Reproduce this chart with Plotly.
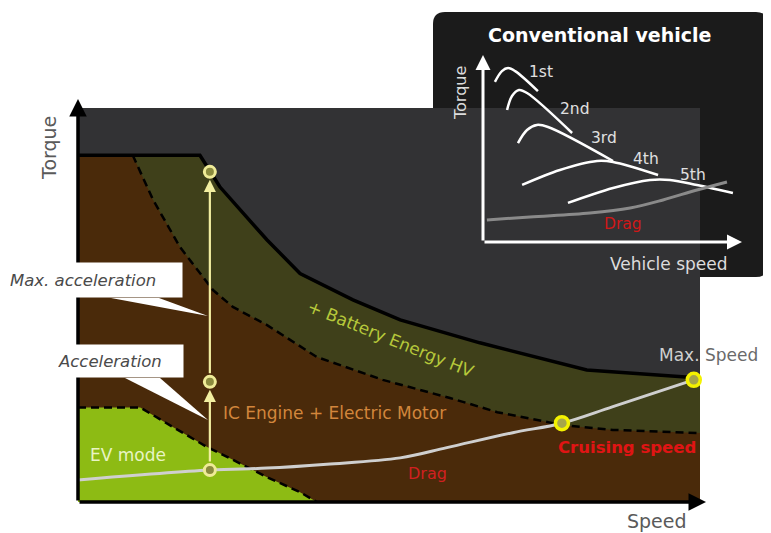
import plotly.graph_objects as go

# ---------------- DATA (main chart, speed / torque in arbitrary units 0-100) ----------------
envelope_speed = [0, 19.6, 22.8, 30.4, 35.7, 44.2, 51.8, 64.6, 81.8, 96.8, 100]
envelope_torque = [88, 88, 80, 66.5, 58, 51.3, 46.2, 40.4, 33.5, 31.7, 31.5]

ice_speed = [8.8, 12.1, 16.4, 21.7, 24.9, 30.4, 38.4, 49, 59.8, 67.4, 78, 86, 100]
ice_torque = [88, 76.6, 64.7, 53.8, 49.5, 44.9, 36.8, 31, 26.4, 22.8, 19.5, 18.3, 17.5]

ev_speed = [0, 10, 15.3, 20.7, 24.9, 30.4, 35.7, 38.4]
ev_torque = [24, 24, 19, 14, 10.7, 6.3, 2.5, 0]

drag_speed = [0, 21.2, 30.4, 40, 51.8, 59.3, 69.9, 77.8, 86, 99]
drag_torque = [5.6, 8.1, 8.6, 9.6, 11.2, 13.8, 17.6, 20, 24.2, 31]

accel_speed = 21.2
accel_torque = [8.1, 30.5, 83.8]      # start, acceleration, max. acceleration
cruise_point = [77.8, 20.0]
maxspeed_point = [99.0, 31.0]

# ---------------- DATA (inset: conventional vehicle) ----------------
gear_names = ["1st", "2nd", "3rd", "4th", "5th"]
gear_speed = [
    [4.6, 7.3, 9.7, 12.4, 21.2],
    [9.3, 11.2, 13.9, 17.0, 34.4],
    [13.5, 17.0, 20.8, 25.1, 50.2],
    [15.1, 29.7, 44.0, 50.2, 67.6],
    [32.8, 50.2, 64.5, 72.2, 82.6, 96.5],
]
gear_torque = [
    [85.6, 91.4, 93.0, 91.4, 80.7],
    [70.6, 78.1, 81.3, 79.7, 58.3],
    [52.9, 59.9, 62.6, 61.5, 43.3],
    [30.5, 38.5, 43.3, 42.8, 35.8],
    [20.9, 28.9, 33.2, 33.2, 30.5, 26.2],
]
inset_drag_speed = [1.5, 18.1, 41.3, 56.8, 69.5, 82.6, 94.2]
inset_drag_torque = [11.8, 13.4, 15.5, 18.2, 22.5, 27.8, 32.1]

# ---------------- LAYOUT CALIBRATION (page pixels) ----------------
OFF = 8                      # page body margin
W, H = 771 - OFF, 533 - OFF  # figure size
PX0, PX1, PY0, PY1 = 78, 700, 502, 108      # main plot box (speed 0..100, torque 0..100)
kx = (PX1 - PX0) / 100.0
ky = (PY0 - PY1) / 100.0
def sx(px): return (px - PX0) / kx
def ty(py): return (PY0 - py) / ky

BOX_L, BOX_T, BOX_R, BOX_B = 433, 12, 768, 277   # inset panel
IX0, IY0, IX1, IY1 = 483, 242, 742, 55            # inset axes origin and arrow tips
ku = (IX1 - IX0) / 100.0
kv = (IY0 - IY1) / 100.0
def iu(px): return (px - IX0) / ku
def iv(py): return (IY0 - py) / kv

FONT = "DejaVu Sans"
DARK = "#323234"
OLIVE = "#3f401a"
BROWN = "#4a2a0a"
GREEN = "#8dbb14"
DASH = "8px,5px"

fig = go.Figure()

fig.add_trace(go.Scatter(x=envelope_speed, y=envelope_torque, fill="tozeroy", mode="none",
                         fillcolor=OLIVE, hoverinfo="skip"))
fig.add_trace(go.Scatter(x=[0] + ice_speed, y=[ice_torque[0]] + ice_torque, fill="tozeroy",
                         mode="none", fillcolor=BROWN, hoverinfo="skip"))
fig.add_trace(go.Scatter(x=ev_speed, y=ev_torque, fill="tozeroy", mode="none",
                         fillcolor=GREEN, hoverinfo="skip"))
fig.add_trace(go.Scatter(x=envelope_speed, y=envelope_torque, mode="lines",
                         line=dict(color="black", width=3.5), hoverinfo="skip"))
fig.add_trace(go.Scatter(x=ice_speed, y=ice_torque, mode="lines",
                         line=dict(color="black", width=2.5, dash=DASH), hoverinfo="skip"))
fig.add_trace(go.Scatter(x=ev_speed, y=ev_torque, mode="lines",
                         line=dict(color="black", width=2.5, dash=DASH), hoverinfo="skip"))
fig.add_trace(go.Scatter(x=drag_speed, y=drag_torque, mode="lines", line_shape="spline",
                         line=dict(color="#cfcfcf", width=3), hoverinfo="skip"))

# callout tails (white wedges)
callouts = [
    dict(text="<i>Max. acceleration</i>", cx=96, cy=280, w=172, h=34,
         base=(111, 159, 297), tip_py=316),
    dict(text="<i>Acceleration</i>", cx=120, cy=361, w=125, h=32,
         base=(125, 160, 377), tip_py=420),
]
for c in callouts:
    bx0, bx1, bpy = c["base"]
    fig.add_trace(go.Scatter(
        x=[sx(bx0), sx(bx1), accel_speed - 0.3, sx(bx0)],
        y=[ty(bpy + 1), ty(bpy + 1), ty(c["tip_py"]), ty(bpy + 1)],
        fill="toself", fillcolor="white", mode="lines", line=dict(width=0, color="white"),
        hoverinfo="skip"))

fig.add_trace(go.Scatter(x=[accel_speed] * 3, y=accel_torque, mode="markers",
                         marker=dict(size=11, color="#8a8a3e", line=dict(color="#efeb98", width=3)),
                         hoverinfo="skip"))
fig.add_trace(go.Scatter(x=[cruise_point[0], maxspeed_point[0]], y=[cruise_point[1], maxspeed_point[1]],
                         mode="markers",
                         marker=dict(size=13, color="#a6a64a", line=dict(color="#f4f200", width=3.5)),
                         hoverinfo="skip"))

for gs, gt in zip(gear_speed, gear_torque):
    fig.add_trace(go.Scatter(x=gs, y=gt, mode="lines", line_shape="spline",
                             line=dict(color="white", width=2.5), xaxis="x2", yaxis="y2",
                             hoverinfo="skip"))
fig.add_trace(go.Scatter(x=inset_drag_speed, y=inset_drag_torque, mode="lines", line_shape="spline",
                         line=dict(color="#8a8a8a", width=3), xaxis="x2", yaxis="y2", hoverinfo="skip"))

ann = []
ann.append(dict(x=sx(706), y=0, ax=0, ay=0, xref="x", yref="y", axref="x", ayref="y", text="",
                showarrow=True, arrowhead=2, arrowsize=1, arrowwidth=3.5, arrowcolor="black"))
ann.append(dict(x=0, y=ty(99), ax=0, ay=0, xref="x", yref="y", axref="x", ayref="y", text="",
                showarrow=True, arrowhead=2, arrowsize=1, arrowwidth=3.5, arrowcolor="black"))
for a, b in [(accel_torque[0], accel_torque[1]), (accel_torque[1], accel_torque[2])]:
    ann.append(dict(x=accel_speed, y=b, ax=accel_speed, ay=a, xref="x", yref="y", axref="x", ayref="y",
                    text="", showarrow=True, arrowhead=2, arrowsize=1.1, arrowwidth=2.2,
                    arrowcolor="#f2eea0", standoff=8, startstandoff=7))
for c in callouts:
    ann.append(dict(x=sx(c["cx"]), y=ty(c["cy"]), xref="x", yref="y", text=c["text"], showarrow=False,
                    bgcolor="white", width=c["w"], height=c["h"], align="left", borderpad=0,
                    font=dict(family=FONT, size=16.5, color="#4a4a4a")))
main_text = [
    dict(x=sx(49), y=ty(148), text="Torque", textangle=-90, font=dict(size=19, color="#5a5a5a")),
    dict(x=sx(657), y=ty(521), text="Speed", font=dict(size=19, color="#5a5a5a")),
    dict(x=sx(708), y=ty(355),
         text="<span style='color:#d0d0d0'>Max.</span> <span style='color:#6a6a6a'>Speed</span>",
         font=dict(size=17)),
    dict(x=sx(391), y=ty(339), text="+ Battery Energy HV", textangle=22,
         font=dict(size=17, color="#b6c83a")),
    dict(x=sx(334), y=ty(413), text="IC Engine + Electric Motor", font=dict(size=17, color="#d2863c")),
    dict(x=sx(128), y=ty(455), text="EV mode", font=dict(size=17, color="#e8f4c4")),
    dict(x=sx(427), y=ty(473), text="Drag", font=dict(size=16, color="#d02020")),
    dict(x=sx(627), y=ty(447), text="<b>Cruising speed</b>", font=dict(size=16.5, color="#e01414")),
]
for a in main_text:
    a.update(xref="x", yref="y", showarrow=False)
    a["font"]["family"] = FONT
ann += main_text

ann.append(dict(x=100, y=0, ax=0, ay=0, xref="x2", yref="y2", axref="x2", ayref="y2", text="",
                showarrow=True, arrowhead=2, arrowsize=1, arrowwidth=3, arrowcolor="white"))
ann.append(dict(x=0, y=100, ax=0, ay=0, xref="x2", yref="y2", axref="x2", ayref="y2", text="",
                showarrow=True, arrowhead=2, arrowsize=1, arrowwidth=3, arrowcolor="white"))
gear_label_px = [(541, 72), (575, 109), (604, 138), (646, 159), (693, 175)]
inset_text = [
    dict(x=iu(599), y=iv(35), text="<b>Conventional vehicle</b>", font=dict(size=19, color="white")),
    dict(x=iu(460), y=iv(93), text="Torque", textangle=-90, font=dict(size=16, color="#dcdcdc")),
    dict(x=iu(669), y=iv(264), text="Vehicle speed", font=dict(size=17, color="#dcdcdc")),
    dict(x=iu(623), y=iv(224), text="Drag", font=dict(size=15.5, color="#d01818")),
]
for name, (px, py) in zip(gear_names, gear_label_px):
    inset_text.append(dict(x=iu(px), y=iv(py), text=name, font=dict(size=15.5, color="#e0e0e0")))
for a in inset_text:
    a.update(xref="x2", yref="y2", showarrow=False)
    a["font"]["family"] = FONT
ann += inset_text

rx = 12.0 / (BOX_R - BOX_L)
ry = 12.0 / (BOX_B - BOX_T)
inset_path = (f"M {rx},0 L {1-rx},0 Q 1,0 1,{ry} L 1,{1-ry} Q 1,1 {1-rx},1 "
              f"L {rx},1 Q 0,1 0,{1-ry} L 0,{ry} Q 0,0 {rx},0 Z")

shapes = [
    dict(type="rect", xref="x", yref="y", x0=0, x1=100, y0=0, y1=100,
         fillcolor=DARK, line=dict(width=0), layer="below"),
    dict(type="path", xref="x2 domain", yref="y2 domain", path=inset_path,
         fillcolor="#1b1b1b", line=dict(width=0), layer="below"),
]

fig.update_layout(
    width=W, height=H, margin=dict(l=0, r=0, t=0, b=0),
    paper_bgcolor="white", plot_bgcolor="rgba(0,0,0,0)",
    showlegend=False, font=dict(family=FONT),
    xaxis=dict(domain=[0, 1], range=[sx(OFF), sx(OFF + W)], visible=False, fixedrange=True),
    yaxis=dict(domain=[0, 1], range=[ty(OFF + H), ty(OFF)], visible=False, fixedrange=True),
    xaxis2=dict(domain=[(BOX_L - OFF) / W, (BOX_R - OFF) / W], range=[iu(BOX_L), iu(BOX_R)],
                anchor="y2", visible=False, fixedrange=True),
    yaxis2=dict(domain=[(OFF + H - BOX_B) / H, (OFF + H - BOX_T) / H], range=[iv(BOX_B), iv(BOX_T)],
                anchor="x2", visible=False, fixedrange=True),
    annotations=ann, shapes=shapes,
)

fig.write_html("out.html")
